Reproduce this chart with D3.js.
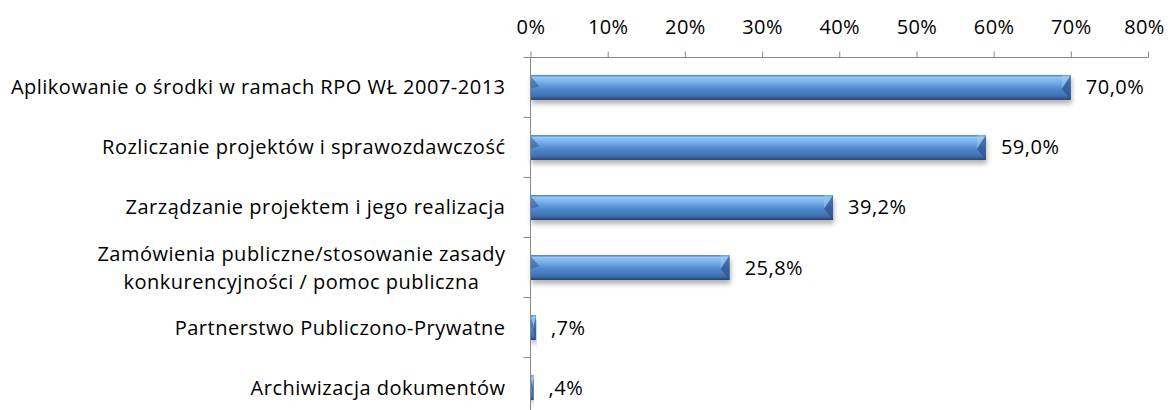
<!DOCTYPE html>
<html>
<head>
<meta charset="utf-8">
<script src="https://cdn.jsdelivr.net/npm/d3@7"></script>
<style>
  body { margin: 0; background: #fff; }
  svg text { font-family: "Open Sans", "Liberation Sans", sans-serif; fill: #000; }
</style>
</head>
<body>
<svg width="1170" height="410"></svg>
<script>
// dane
const categories = [
	"Aplikowanie o środki w ramach RPO WŁ 2007-2013",
	"Rozliczanie projektów i sprawozdawczość",
	"Zarządzanie projektem i jego realizacja",
	"Zamówienia publiczne/stosowanie zasady|konkurencyjności / pomoc publiczna",
	"Partnerstwo Publiczono-Prywatne",
	"Archiwizacja dokumentów"
];
const values = [70.0, 59.0, 39.2, 25.8, 0.7, 0.4];
const tickValues = [0, 10, 20, 30, 40, 50, 60, 70, 80];

const svg = d3.select("svg");

const mLeft = 530.5, mRight = 1148, mTop = 57.5, mBottom = 417.5;
const fontSize = 20;

const x = d3.scaleLinear().domain([0, 80]).range([mLeft, mRight]);
const y = d3.scaleBand().domain(d3.range(categories.length)).range([mTop, mBottom]).paddingInner(35 / 60).paddingOuter(0.29);

// format jak w excelu: przecinek, bez zera na początku
function fmtVal(v) {
	let s = d3.format(".1f")(v).replace(".", ",");
	if (s.startsWith("0,")) s = s.slice(1);
	return s + "%";
}

// gradient słupka
const defs = svg.append("defs");
const grad = defs.append("linearGradient")
	.attr("id", "barGrad")
	.attr("x1", 0).attr("y1", 0).attr("x2", 0).attr("y2", 1);
[
	[0, "#4a7cc0"],
	[0.1, "#94c7f5"],
	[0.3, "#74ade8"],
	[0.55, "#5189cc"],
	[0.85, "#3f6fae"],
	[1, "#24416b"]
].forEach(d => grad.append("stop").attr("offset", d[0]).attr("stop-color", d[1]));

const shadow = defs.append("filter")
	.attr("id", "shadow")
	.attr("x", "-5%").attr("y", "-30%").attr("width", "110%").attr("height", "190%");
shadow.append("feGaussianBlur").attr("in", "SourceAlpha").attr("stdDeviation", 2.5);
shadow.append("feOffset").attr("dx", 1).attr("dy", 4).attr("result", "off");
shadow.append("feComponentTransfer").append("feFuncA").attr("type", "linear").attr("slope", 0.3);
const merge = shadow.append("feMerge");
merge.append("feMergeNode");
merge.append("feMergeNode").attr("in", "SourceGraphic");

// oś X u góry
const xAxis = svg.append("g")
	.attr("transform", `translate(0,${mTop})`)
	.call(d3.axisTop(x).tickValues(tickValues).tickSize(6).tickSizeOuter(0).tickFormat(d => d + "%"));
xAxis.select(".domain").attr("stroke", "#888").attr("d", `M${mLeft - 7},0H${mRight}`);
xAxis.selectAll(".tick line").attr("stroke", "#888");
xAxis.selectAll(".tick text")
	.attr("font-size", fontSize)
	.attr("font-family", "Open Sans")
	.attr("letter-spacing", 0.4)
	.attr("y", -24).attr("dy", 0);
xAxis.selectAll(".tick text").filter(d => d === 80).attr("dx", -4);

// słupki
const bars = svg.append("g").selectAll("g.bar")
	.data(values)
	.join("g")
	.attr("class", "bar")
	.attr("filter", "url(#shadow)");

bars.append("rect")
	.attr("x", x(0))
	.attr("y", (d, i) => y(i))
	.attr("width", d => x(d) - x(0))
	.attr("height", y.bandwidth())
	.attr("fill", "url(#barGrad)");

// fazy na końcach
bars.append("path")
	.attr("d", (d, i) => {
		const x0 = x(0), w = Math.min(9, (x(d) - x(0)) / 2), y0 = y(i), h = y.bandwidth();
		return `M${x0},${y0 + 1}L${x0 + w},${y0 + h * 0.45}L${x0},${y0 + h * 0.55}Z`;
	})
	.attr("fill", "#2f5a94")
	.attr("opacity", 0.55);
bars.append("path")
	.attr("d", (d, i) => {
		const x1 = x(d), w = Math.min(9, (x(d) - x(0)) / 2), y0 = y(i), h = y.bandwidth();
		return `M${x1},${y0}L${x1},${y0 + h}L${x1 - w},${y0 + h * 0.55}Z`;
	})
	.attr("fill", "#2b5189")
	.attr("opacity", 0.7);
bars.append("path")
	.attr("d", (d, i) => {
		const x1 = x(d), w = Math.min(9, (x(d) - x(0)) / 2), y0 = y(i), h = y.bandwidth();
		return `M${x1},${y0}L${x1 - w},${y0 + h * 0.55}L${x1 - w},${y0}Z`;
	})
	.attr("fill", "#9bc9f2")
	.attr("opacity", 0.5);

// oś Y
const yAxis = svg.append("g");
yAxis.append("line")
	.attr("x1", mLeft).attr("x2", mLeft)
	.attr("y1", mTop).attr("y2", mBottom)
	.attr("stroke", "#888");
yAxis.selectAll("line.tick")
	.data(d3.range(1, categories.length))
	.join("line")
	.attr("class", "tick")
	.attr("x1", mLeft - 7).attr("x2", mLeft)
	.attr("y1", i => y(i) - y.step() * y.paddingInner() / 2)
	.attr("y2", i => y(i) - y.step() * y.paddingInner() / 2)
	.attr("stroke", "#888");

// etykiety kategorii
svg.append("g").selectAll("text")
	.data(categories)
	.join("text")
	.attr("font-size", fontSize)
	.attr("letter-spacing", 0.5)
	.each(function (c, i) {
		const t = d3.select(this);
		const lines = c.split("|");
		const cy = y(i) + y.bandwidth() / 2;
		const xr = mLeft - 25;
		if (lines.length === 1) {
			t.attr("x", xr).attr("y", cy).attr("dy", "0.35em").attr("text-anchor", "end").text(c);
		} else {
			t.attr("text-anchor", "middle");
			const spans = lines.map((l, k) => t.append("tspan").attr("y", cy + (k - 0.5) * 28).attr("dy", "0.35em").text(l));
			const wmax = d3.max(spans, s => s.node().getComputedTextLength());
			spans.forEach(s => s.attr("x", xr - wmax / 2));
		}
	});

// etykiety wartości
svg.append("g").selectAll("text")
	.data(values)
	.join("text")
	.attr("font-size", fontSize)
	.attr("letter-spacing", 0.5)
	.attr("x", d => x(d) + 15)
	.attr("y", (d, i) => y(i) + y.bandwidth() / 2)
	.attr("dy", "0.35em")
	.text(d => fmtVal(d));
</script>
</body>
</html>
